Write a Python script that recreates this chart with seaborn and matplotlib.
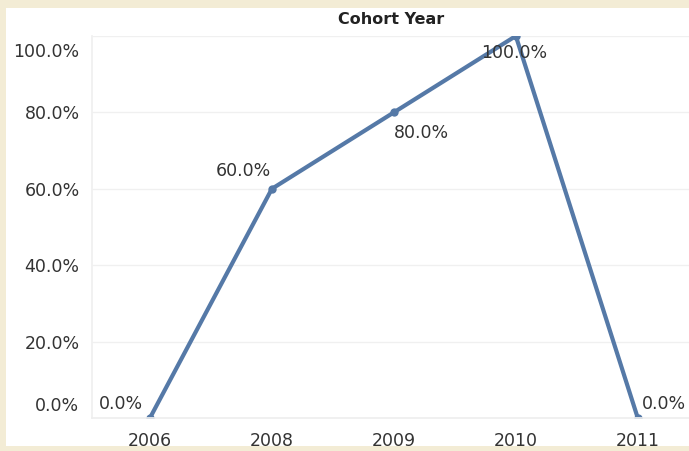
import pandas as pd
import seaborn as sns
import matplotlib.pyplot as plt
from matplotlib.patches import Rectangle
from matplotlib.ticker import PercentFormatter
from matplotlib.transforms import ScaledTranslation

sns.set(style="white")
plt.rcParams['font.family'] = ['DejaVu Sans']

years = ['2006', '2008', '2009', '2010', '2011']
rates = [0.0, 0.6, 0.8, 1.0, 0.0]
ytick_vals = [0.0, 0.2, 0.4, 0.6, 0.8, 1.0]
# label offsets in pixels relative to each point
label_dx = [-29, -29, 28, -2, 26]
label_dy = [14, 18, -21, -17, 14]

df = pd.DataFrame({'year': years, 'rate': rates})
df['pos'] = range(len(years))

fig = plt.figure(figsize=(6.89, 4.51), dpi=100, facecolor='#f3ecd5')
# white panel inside the beige frame
fig.patches.append(Rectangle((6 / 689, 5 / 451), 1 - 6 / 689, 1 - 13 / 451,
                             transform=fig.transFigure, facecolor='white',
                             edgecolor='none', zorder=-5))

ax = fig.add_axes([92 / 689, 1 - 418 / 451, 1 - 92 / 689, (418 - 36) / 451])
ax.set_facecolor('white')

sns.lineplot(data=df, x='pos', y='rate', ax=ax, color='#5579a7', linewidth=3.0,
             marker='o', markersize=6, markeredgewidth=0)

ax.set_xlim(-0.475, 4.42)
ax.set_ylim(0, 1)
ax.set_xticks(df['pos'])
ax.set_xticklabels(years)
ax.set_yticks(ytick_vals)
ax.yaxis.set_major_formatter(PercentFormatter(1.0, decimals=1))
ax.set_xlabel('')
ax.set_ylabel('')

# faint gridlines
for v in ytick_vals[1:]:
    ax.axhline(v, color='#f0f0f0', linewidth=1, zorder=0)
for s in ['top', 'right']:
    ax.spines[s].set_visible(False)
ax.spines['left'].set_color('#f0f0f0')
ax.spines['bottom'].set_color('#eeeeee')
# faint category separators at the bottom
ax.set_xticks([0.5, 1.5, 2.5, 3.5], minor=True)
ax.tick_params(axis='x', which='minor', length=6, color='#e8e8e8', direction='in')
ax.tick_params(axis='both', which='major', length=0, labelsize=12.5, labelcolor='#333333')
ax.tick_params(axis='y', pad=9)
ax.tick_params(axis='x', which='major', pad=10)

# end labels sit inside the axis range, like the original
fig.canvas.draw()
ylabels = ax.get_yticklabels()
ylabels[0].set_transform(ylabels[0].get_transform() + ScaledTranslation(0, 0.14, fig.dpi_scale_trans))
ylabels[-1].set_transform(ylabels[-1].get_transform() + ScaledTranslation(0, -0.14, fig.dpi_scale_trans))

for i, r in enumerate(rates):
    ax.annotate(f'{r * 100:.1f}%', (i, r), xytext=(label_dx[i], label_dy[i]),
                textcoords='offset pixels', ha='center', va='center',
                fontsize=12.5, color='#333333', annotation_clip=False)

fig.text(391 / 689, 1 - 20 / 451, 'Cohort Year', ha='center', va='center',
         fontsize=11.5, fontweight='bold', color='#222222')

fig.savefig('out.png', dpi=100, facecolor=fig.get_facecolor())
